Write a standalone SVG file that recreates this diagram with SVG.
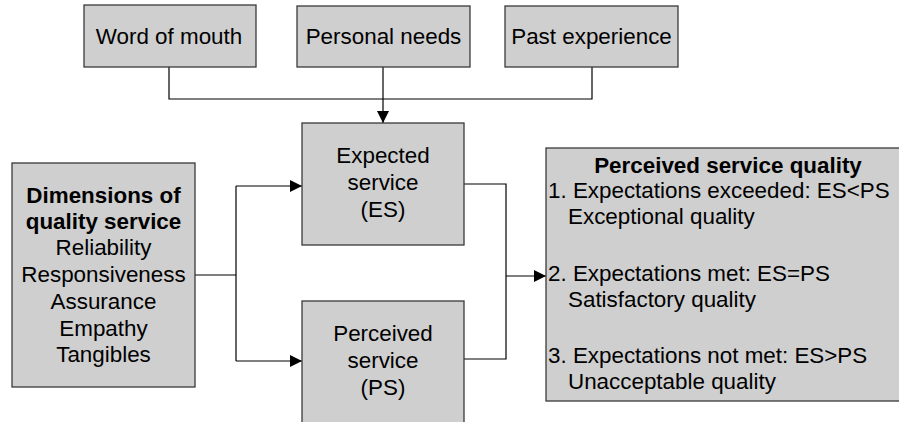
<svg xmlns="http://www.w3.org/2000/svg" width="899" height="422" viewBox="0 0 899 422">
  <style>
    .box { fill: #cfcfcf; stroke: #3a3a3a; stroke-width: 1.3; }
    .t { font-family: "Liberation Sans", Arial, sans-serif; font-size: 22.4px; fill: #000; }
    .c { text-anchor: middle; }
    .b { font-weight: bold; }
    .wire { fill: none; stroke: #000; stroke-width: 1.2; }
  </style>
  <defs>
    <marker id="arrow" viewBox="0 0 12 12" refX="12" refY="6" markerWidth="12" markerHeight="12" markerUnits="userSpaceOnUse" orient="auto">
      <path d="M0,0 L12,6 L0,12 Z" fill="#000"/>
    </marker>
  </defs>
  <rect width="899" height="422" fill="#fff"/>

  <g id="connectors">
    <!-- antecedents merge into expected service -->
    <path class="wire" d="M169,67 V99 H592 V67"/>
    <path class="wire" d="M383,67 V123" marker-end="url(#arrow)"/>
    <!-- dimensions feed both services -->
    <path class="wire" d="M195,275 H236"/>
    <path class="wire" d="M236,186 V361"/>
    <path class="wire" d="M236,186 H302" marker-end="url(#arrow)"/>
    <path class="wire" d="M236,361 H302" marker-end="url(#arrow)"/>
    <!-- comparison into perceived quality -->
    <path class="wire" d="M464,184 H506 V359 H464"/>
    <path class="wire" d="M506,276 H546" marker-end="url(#arrow)"/>
  </g>

  <g id="word-of-mouth">
    <rect class="box" x="84" y="5" width="172" height="62"/>
    <text class="t c" x="169" y="44">Word of mouth</text>
  </g>
  <g id="personal-needs">
    <rect class="box" x="297" y="6" width="173" height="61"/>
    <text class="t c" x="383.5" y="44">Personal needs</text>
  </g>
  <g id="past-experience">
    <rect class="box" x="505" y="6" width="173" height="61"/>
    <text class="t c" x="591.5" y="44">Past experience</text>
  </g>

  <g id="dimensions">
    <rect class="box" x="12" y="163" width="183" height="224"/>
    <text class="t c b" x="103.5" y="203">Dimensions of</text>
    <text class="t c b" x="103.5" y="229">quality service</text>
    <text class="t c" x="103.5" y="255">Reliability</text>
    <text class="t c" x="103.5" y="282">Responsiveness</text>
    <text class="t c" x="103.5" y="309">Assurance</text>
    <text class="t c" x="103.5" y="336">Empathy</text>
    <text class="t c" x="103.5" y="362">Tangibles</text>
  </g>

  <g id="expected-service">
    <rect class="box" x="302" y="123" width="162" height="122"/>
    <text class="t c" x="383" y="163">Expected</text>
    <text class="t c" x="383" y="190">service</text>
    <text class="t c" x="383" y="217">(ES)</text>
  </g>

  <g id="perceived-service">
    <rect class="box" x="302" y="301" width="162" height="130"/>
    <text class="t c" x="383" y="341">Perceived</text>
    <text class="t c" x="383" y="368">service</text>
    <text class="t c" x="383" y="395">(PS)</text>
  </g>

  <g id="perceived-quality">
    <rect class="box" x="546" y="148" width="364" height="253"/>
    <text class="t c b" x="728" y="173">Perceived service quality</text>
    <text class="t" x="548" y="198">1. Expectations exceeded: ES&lt;PS</text>
    <text class="t" x="568" y="224">Exceptional quality</text>
    <text class="t" x="548" y="281">2. Expectations met: ES=PS</text>
    <text class="t" x="568" y="307">Satisfactory quality</text>
    <text class="t" x="548" y="363">3. Expectations not met: ES&gt;PS</text>
    <text class="t" x="568" y="389">Unacceptable quality</text>
  </g>
</svg>
